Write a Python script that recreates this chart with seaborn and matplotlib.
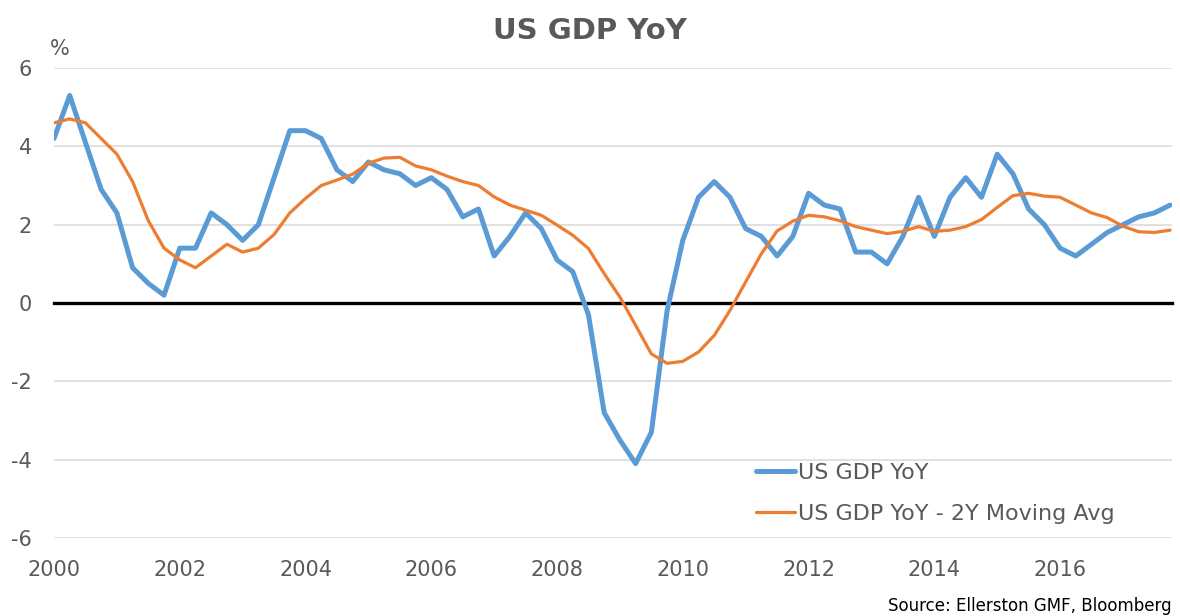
import seaborn as sns
import pandas as pd
import matplotlib.pyplot as plt
import numpy as np

# quarterly data, 2000Q1 - 2017Q4
quarters = pd.period_range("2000Q1", "2017Q4", freq="Q")
gdp_yoy = [4.2, 5.3, 4.1, 2.9, 2.3, 0.9, 0.5, 0.2, 1.4, 1.4, 2.3, 2.0,
           1.6, 2.0, 3.2, 4.4, 4.4, 4.2, 3.4, 3.1, 3.6, 3.4, 3.3, 3.0,
           3.2, 2.9, 2.2, 2.4, 1.2, 1.7, 2.3, 1.9, 1.1, 0.8, -0.3, -2.8,
           -3.5, -4.1, -3.3, -0.2, 1.6, 2.7, 3.1, 2.7, 1.9, 1.7, 1.2, 1.7,
           2.8, 2.5, 2.4, 1.3, 1.3, 1.0, 1.7, 2.7, 1.7, 2.7, 3.2, 2.7,
           3.8, 3.3, 2.4, 2.0, 1.4, 1.2, 1.5, 1.8, 2.0, 2.2, 2.3, 2.5]
gdp_ma2y = [4.6, 4.7, 4.6, 4.2, 3.8, 3.1, 2.1, 1.4, 1.1, 0.9, 1.2, 1.5,
            1.3, 1.4, 1.75, 2.3, 2.67, 3.0, 3.14, 3.29, 3.57, 3.7, 3.72, 3.5,
            3.4, 3.24, 3.1, 3.0, 2.71, 2.5, 2.37, 2.24, 1.99, 1.73, 1.39, 0.75,
            0.15, -0.57, -1.3, -1.54, -1.49, -1.25, -0.83, -0.19, 0.54, 1.26, 1.84, 2.09,
            2.24, 2.2, 2.1, 1.95, 1.86, 1.77, 1.83, 1.95, 1.83, 1.86, 1.95, 2.13,
            2.44, 2.74, 2.8, 2.73, 2.7, 2.5, 2.3, 2.18, 1.96, 1.82, 1.8, 1.86]
series_names = ["US GDP YoY", "US GDP YoY - 2Y Moving Avg"]
year_ticks = list(range(2000, 2017, 2))
y_ticks = [-6, -4, -2, 0, 2, 4, 6]

dec_year = np.array([p.year + (p.quarter - 1) / 4 for p in quarters])
df = pd.DataFrame({
    "date": np.concatenate([dec_year, dec_year]),
    "value": gdp_yoy + gdp_ma2y,
    "series": [series_names[0]] * len(gdp_yoy) + [series_names[1]] * len(gdp_ma2y),
})

sns.set_theme(style="white")
plt.rcParams['font.family'] = ['DejaVu Sans']
plt.rcParams['axes.unicode_minus'] = False
grey = "#595959"

fig = plt.figure(figsize=(11.8, 6.16), dpi=100)
ax = fig.add_axes([54 / 1180, 78 / 616, 1118 / 1180, 470 / 616])

sns.lineplot(data=df, x="date", y="value", hue="series", size="series",
             sizes={series_names[0]: 3.6, series_names[1]: 2.3},
             palette={series_names[0]: "#5B9BD5", series_names[1]: "#ED7D31"},
             ax=ax, legend=True)
for ln in ax.lines:
    ln.set_solid_joinstyle("round")
    ln.set_solid_capstyle("round")

ax.set_xlim(2000, 2017.78)
ax.set_ylim(-6, 6)
ax.set_yticks(y_ticks)
ax.set_xticks(year_ticks)
ax.set_xlabel("")
ax.set_ylabel("")

# light horizontal gridlines
ax.yaxis.grid(True, color="#d9d9d9", lw=1.1)
ax.xaxis.grid(False)
ax.set_axisbelow(True)

for s in ["top", "right", "left"]:
    ax.spines[s].set_visible(False)
ax.spines["bottom"].set_position(("data", 0))
ax.spines["bottom"].set_color("black")
ax.spines["bottom"].set_linewidth(2.4)
ax.spines["bottom"].set_zorder(1.5)
ax.tick_params(axis="x", direction="in", length=6, width=2, color="black",
               labelbottom=False)
ax.tick_params(axis="y", length=0, labelsize=15, labelcolor=grey, pad=16)

# year labels under the plot area
sec = ax.secondary_xaxis("bottom")
sec.set_xticks(year_ticks)
sec.tick_params(length=0, labelsize=15, labelcolor=grey, pad=16)
sec.spines["bottom"].set_visible(False)

leg = ax.legend(loc="upper left", bbox_to_anchor=(0.628, 0.16), frameon=False,
                fontsize=16, handlelength=1.75, handletextpad=0.15,
                labelspacing=0.95, borderpad=0, borderaxespad=0)
for t in leg.get_texts():
    t.set_color(grey)

fig.text(0.5, 1 - 31 / 616, "US GDP YoY", ha="center", va="center",
         fontsize=21, fontweight="bold", color=grey)
fig.text(50 / 1180, 1 - 49 / 616, "%", ha="left", va="center", fontsize=15, color=grey)
fig.text(888 / 1180, 1 - 611 / 616, "Source: Ellerston GMF, Bloomberg",
         ha="left", va="baseline", fontsize=12, color="black")

fig.savefig("out.png", dpi=100, facecolor="white")
